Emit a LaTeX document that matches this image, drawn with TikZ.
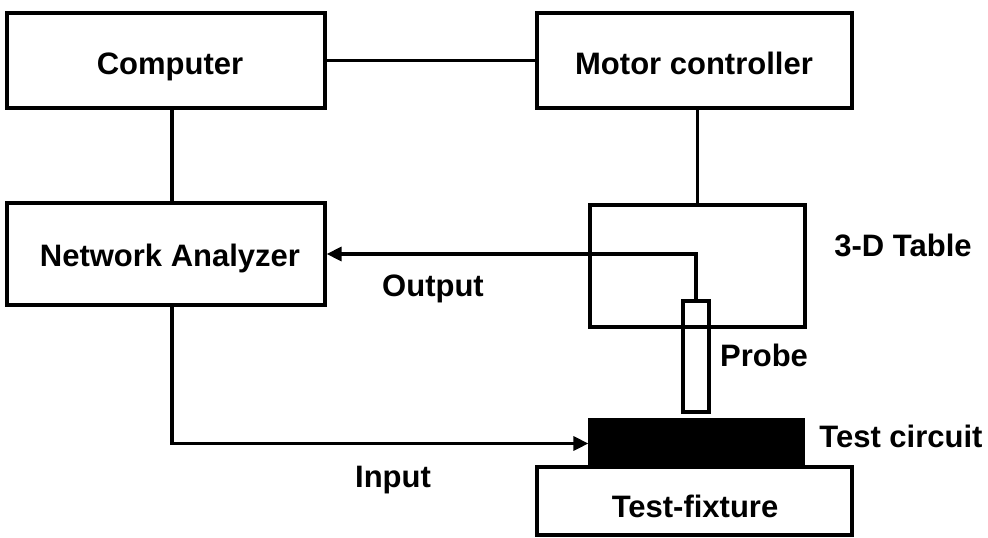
\documentclass[tikz,border=0pt]{standalone}
\usepackage{fontspec}
\setmainfont{Liberation Sans}
\usetikzlibrary{arrows.meta}
\begin{document}
\begin{tikzpicture}[x=1pt,y=-1pt,
  box/.style={draw,line width=3.2pt,inner sep=0pt},
  lbl/.style={font=\fontsize{31}{33}\selectfont\bfseries,inner sep=0pt},
  wire/.style={line width=3.2pt},
  arr/.style={wire,-{Triangle[length=15pt,width=14pt]}}]
\useasboundingbox (0,0) rectangle (988,538);
\node[box,minimum width=318pt,minimum height=95pt] (comp) at (166,60.5) {};
\node[box,minimum width=315pt,minimum height=95pt] (motor) at (694.5,60.5) {};
\node[box,minimum width=318pt,minimum height=102pt] (net) at (166,254) {};
\node[box,minimum width=215pt,minimum height=122pt] (table) at (697.5,266) {};
\node[box,minimum width=26pt,minimum height=111pt] (probe) at (696,356.5) {};
\node[box,fill=black,minimum width=213pt,minimum height=47pt] (circ) at (696.5,443.5) {};
\node[box,minimum width=315pt,minimum height=68pt] (fix) at (694.5,501) {};
\node[lbl,anchor=base] (compl) at (170,74) {Computer};
\node[lbl,anchor=base] (motorl) at (694,74) {Motor controller};
\node[lbl,anchor=base] (netl) at (170,266) {Network Analyzer};
\node[lbl,anchor=base] (fixl) at (695,517) {Test-fixture};
\node[lbl,anchor=base] (tablel) at (903,256) {3-D Table};
\node[lbl,anchor=base] (outl) at (433,296) {Output};
\node[lbl,anchor=base] (inl) at (393,487) {Input};
\node[lbl,anchor=base] (probel) at (764,366) {Probe};
\node[lbl,anchor=base] (circl) at (901,447) {Test circuit};
\draw[wire] (comp.east) -- (motor.west);
\draw[wire] ([xshift=6pt]comp.south) -- ([xshift=6pt]net.north);
\draw[wire] (table.north |- motor.south) -- (table.north);
\draw[arr] (probe.north) |- (net.east);
\draw[arr] ([xshift=6pt]net.south) |- (circ.west);
\end{tikzpicture}
\end{document}
